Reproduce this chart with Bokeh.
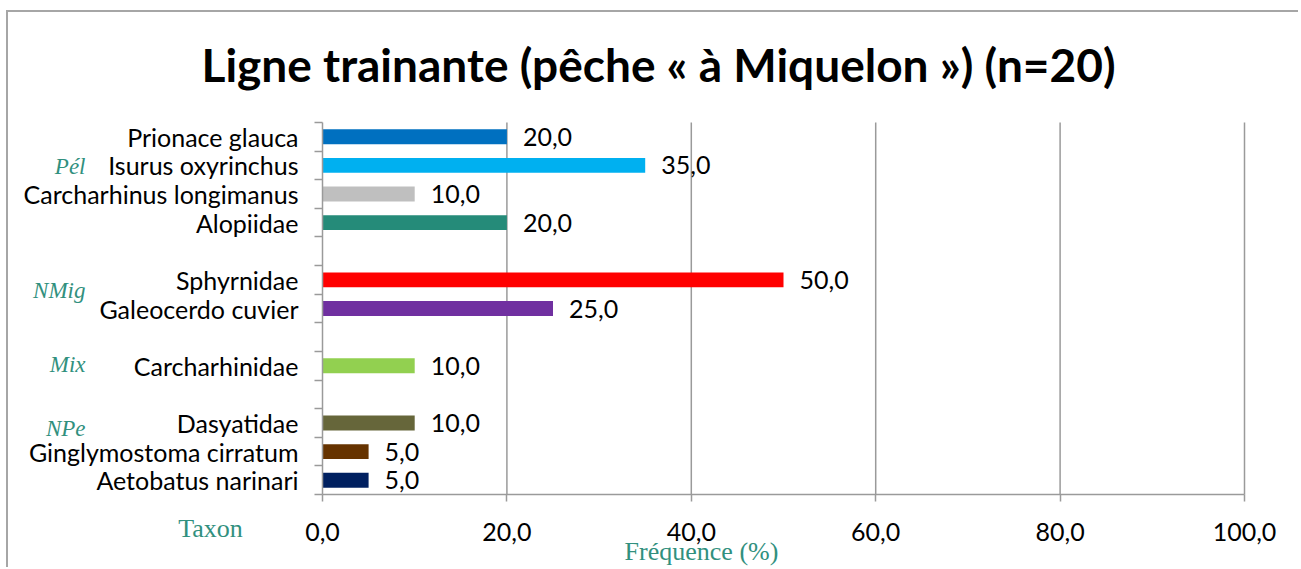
from bokeh.plotting import figure
from bokeh.models import ColumnDataSource, Range1d, FixedTicker
from bokeh.core.properties import value
from bokeh.embed import file_html
from bokeh.resources import INLINE

# ---- data ----
taxa = ["Prionace glauca", "Isurus oxyrinchus", "Carcharhinus longimanus", "Alopiidae",
        "Sphyrnidae", "Galeocerdo cuvier", "Carcharhinidae",
        "Dasyatidae", "Ginglymostoma cirratum", "Aetobatus narinari"]
freq = [20.0, 35.0, 10.0, 20.0, 50.0, 25.0, 10.0, 10.0, 5.0, 5.0]
groups = ["Pél", "Pél", "Pél", "Pél", "NMig", "NMig", "Mix", "NPe", "NPe", "NPe"]
colors = ["#0070C0", "#00B0F0", "#BFBFBF", "#258B79", "#FF0000", "#7030A0",
          "#92D050", "#66663A", "#663300", "#002060"]
group_names = ["Pél", "NMig", "Mix", "NPe"]
x_ticks = [0, 20, 40, 60, 80, 100]
title_text = "Ligne trainante (pêche « à Miquelon ») (n=20)"
x_title = "Fréquence (%)"
y_title = "Taxon"

# ---- slot positions: one empty slot between groups ----
slots = []
gaps = 0
for i, g in enumerate(groups):
    if i > 0 and g != groups[i - 1]:
        gaps += 1
    slots.append(i + gaps)
n_slots = slots[-1] + 1
ys = [n_slots - k - 0.5 for k in slots]

def fmt(v):
    return f"{v:.1f}".replace(".", ",")

# ---- layout (page pixels) ----
CANVAS_X, CANVAS_Y = 8, 12          # canvas origin on the page
W, H = 1292, 557                    # canvas size
PX_X0, PX_X100 = 322, 1244          # pixel of x = 0 and x = 100
PX_YTOP, PX_YBOT = 122, 494         # pixel of y = n_slots and y = 0

def dx(px):
    return (px - PX_X0) * 100.0 / (PX_X100 - PX_X0)

def dy(py):
    return n_slots * (PX_YBOT - py) / (PX_YBOT - PX_YTOP)

FONT = "Lato"
SERIF = "Liberation Serif"
TEAL = "#31907E"
GRAY = "#9A9A9A"

src = ColumnDataSource(dict(y=ys, freq=freq, color=colors, label=[fmt(v) for v in freq]))

p = figure(width=W, height=H, output_backend="svg", toolbar_location=None,
           x_range=Range1d(dx(CANVAS_X), dx(CANVAS_X + W)),
           y_range=Range1d(dy(CANVAS_Y + H), dy(CANVAS_Y)),
           min_border=0, min_border_left=0, min_border_right=0,
           min_border_top=0, min_border_bottom=0)
p.title.text = ""
p.title.visible = False
p.styles = {"margin-left": "6px", "margin-top": "10px",
            "border-left": "2px solid #A6A6A6", "border-top": "2px solid #A6A6A6"}
p.outline_line_color = None
p.background_fill_color = "white"
p.border_fill_color = "white"
p.xgrid.grid_line_color = None
p.ygrid.grid_line_color = None

# vertical grid lines at the x ticks, spanning the category band
p.segment(x0=x_ticks[1:], x1=x_ticks[1:], y0=[0] * (len(x_ticks) - 1),
          y1=[n_slots] * (len(x_ticks) - 1), line_color=GRAY, line_width=1.5)

p.hbar(y="y", left=0, right="freq", height=0.52, fill_color="color", line_color=None, source=src)
p.text(x="freq", y="y", text="label", x_offset=16, text_baseline="middle", text_align="left",
       text_font=value(FONT), text_font_size="25px", text_color="#000000", source=src)

# x axis, drawn at y = 0
xa = p.xaxis[0]
xa.fixed_location = 0
xa.bounds = (0, 100)
xa.ticker = FixedTicker(ticks=x_ticks)
xa.major_label_overrides = {t: fmt(t) for t in x_ticks}
xa.axis_line_color = GRAY
xa.axis_line_width = 1.5
xa.major_tick_line_color = GRAY
xa.major_tick_line_width = 1.5
xa.major_tick_out = 7
xa.major_tick_in = 0
xa.minor_tick_line_color = None
xa.major_label_text_font = FONT
xa.major_label_text_font_size = "25px"
xa.major_label_text_color = "#000000"
xa.major_label_standoff = 21

# y axis, drawn at x = 0, tick marks between categories
ya = p.yaxis[0]
ya.fixed_location = 0
ya.bounds = (0, n_slots)
ya.ticker = FixedTicker(ticks=ys, minor_ticks=list(range(0, n_slots + 1)))
ya.major_label_overrides = {y: t for y, t in zip(ys, taxa)}
ya.axis_line_color = GRAY
ya.axis_line_width = 1.5
ya.major_tick_line_color = None
ya.major_tick_out = 0
ya.major_tick_in = 0
ya.minor_tick_line_color = GRAY
ya.minor_tick_line_width = 1.5
ya.minor_tick_out = 8
ya.minor_tick_in = 0
ya.major_label_text_font = FONT
ya.major_label_text_font_size = "25px"
ya.major_label_text_color = "#000000"
ya.major_label_standoff = 16

# title
p.text(x=[dx(658)], y=[dy(64)], text=[title_text], text_align="center",
       text_baseline="middle", text_font=value(FONT), text_font_size="46px",
       text_font_style="bold", text_color="#000000")

# group labels
group_px_y = [166, 290, 364, 428]
p.text(x=[dx(85)] * len(group_names), y=[dy(v) for v in group_px_y], text=group_names,
       text_align="right", text_baseline="middle", text_font=value(SERIF),
       text_font_size="23px", text_font_style="italic", text_color=TEAL)

# axis titles
p.text(x=[dx(210)], y=[dy(528)], text=[y_title], text_align="center", text_baseline="middle",
       text_font=value(SERIF), text_font_size="26px", text_color=TEAL)
p.text(x=[dx(701)], y=[dy(551)], text=[x_title], text_align="center", text_baseline="middle",
       text_font=value(SERIF), text_font_size="26px", text_color=TEAL)

open("out.html", "w").write(file_html(p, INLINE))
